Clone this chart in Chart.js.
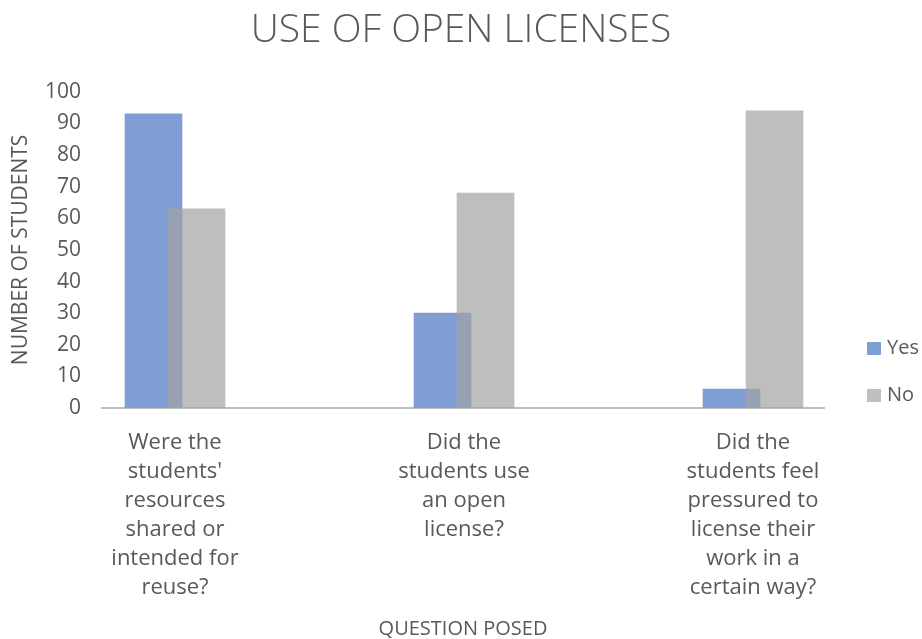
<!DOCTYPE html>
<html>
<head>
<meta charset="utf-8">
<script src="https://cdn.jsdelivr.net/npm/chart.js@4"></script>
<style>
  body { margin: 0; background: #fff; }
  #wrap { position: relative; width: 922px; height: 639px; }
  .leyenda { position: absolute; left: 867px; font: 20px "Open Sans", sans-serif; color: #595959; line-height: 20px; white-space: nowrap; }
  .leyenda span { display: inline-block; width: 14px; height: 13px; margin-right: 6px; vertical-align: -1px; }
</style>
</head>
<body>
<div id="wrap">
  <canvas id="grafica" width="922" height="639"></canvas>
  <div class="leyenda" style="top:337px"><span style="background:#7F9FD4"></span>Yes</div>
  <div class="leyenda" style="top:384px"><span style="background:#BFBFBF"></span>No</div>
</div>
<script>
// datos
const preguntas = [
  ["Were the", "students'", "resources", "shared or", "intended for", "reuse?"],
  ["Did the", "students use", "an open", "license?"],
  ["Did the", "students feel", "pressured to", "license their", "work in a", "certain way?"]
];
const respuestasSi = [93, 30, 6];
const respuestasNo = [63, 68, 94];
const yMin = 0, yMax = 100, yPaso = 10;

// desplazamiento de cada barra respecto al centro de la pregunta
const despl = 0.0744;
const gris = "#595959";
const fuente = '"Open Sans", sans-serif';

const canvas = document.getElementById("grafica");
const ctx = canvas.getContext("2d");

const grafico = new Chart(ctx, {
  type: "bar",
  data: {
    datasets: [
      {
        label: "Yes",
        data: respuestasSi.map((v, i) => ({ x: i - despl, y: v })),
        backgroundColor: "#7F9FD4",
        order: 1,
      },
      {
        label: "No",
        data: respuestasNo.map((v, i) => ({ x: i + despl, y: v })),
        backgroundColor: "rgba(163,163,163,0.7)",
        order: 0, // se dibuja encima
      },
    ],
  },
  options: {
    responsive: false,
    animation: false,
    grouped: false,
    barThickness: 57,
    layout: { padding: 0 },
    plugins: {
      legend: { display: false },
      tooltip: { enabled: false },
      title: {
        display: true,
        text: "USE OF OPEN LICENSES",
        color: gris,
        font: { family: fuente, size: 39, weight: 300, lineHeight: 1.2 },
        padding: { top: 7, bottom: 38 },
      },
    },
    scales: {
      x: {
        type: "linear",
        offset: false,
        min: -0.2526,
        max: 2.2457,
        grid: { display: false, drawTicks: false, offset: false },
        border: { display: true, color: "#BFBFBF", width: 2 },
        afterBuildTicks: (s) => { s.ticks = preguntas.map((p, i) => ({ value: i })); },
        afterFit: (s) => { s.height = 231; },
        ticks: {
          color: gris,
          padding: 20,
          maxRotation: 0,
          autoSkip: false,
          font: { family: fuente, size: 22, lineHeight: "29px" },
          callback: (v) => preguntas[v],
        },
        title: {
          display: true,
          text: "QUESTION POSED",
          color: gris,
          font: { family: fuente, size: 20, lineHeight: 1 },
          padding: { top: 0, bottom: 0 },
        },
      },
      y: {
        min: yMin,
        max: yMax,
        grid: { display: false, drawTicks: false },
        border: { display: false },
        afterFit: (s) => { s.width = 102; },
        ticks: {
          stepSize: yPaso,
          color: gris,
          padding: 21,
          font: { family: fuente, size: 21 },
        },
        title: {
          display: true,
          text: "NUMBER OF STUDENTS",
          color: gris,
          font: { family: fuente, size: 21, lineHeight: 1.2 },
          padding: { top: 8, bottom: 0 },
        },
      },
      // eje vacio a la derecha para dejar el espacio de la leyenda
      y2: {
        position: "right",
        grid: { display: false },
        border: { display: false },
        ticks: { display: false },
        afterFit: (s) => { s.width = 98; },
      },
    },
  },
});
</script>
</body>
</html>
